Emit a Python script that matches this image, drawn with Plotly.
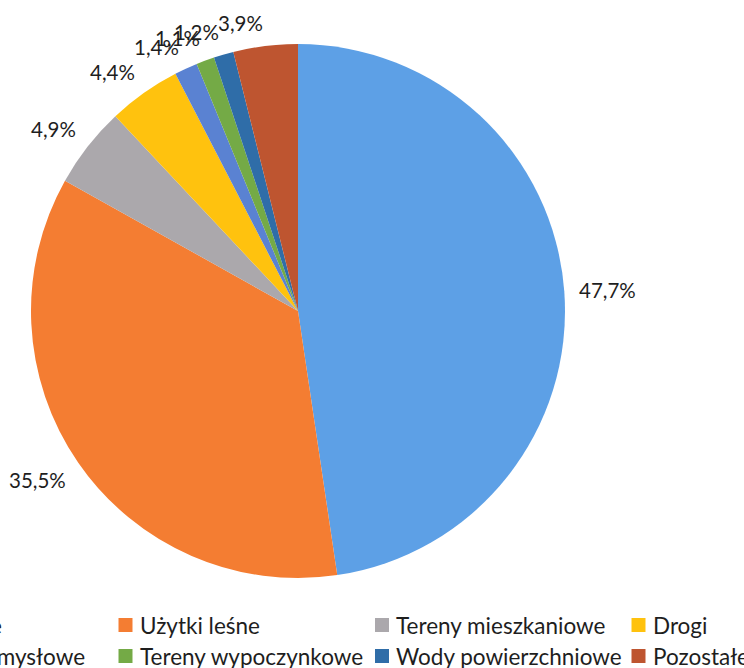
import numpy as np
import plotly.graph_objects as go

categories = ["Użytki rolne", "Użytki leśne", "Tereny mieszkaniowe", "Drogi",
              "Tereny przemysłowe", "Tereny wypoczynkowe", "Wody powierzchniowe", "Pozostałe"]
values = [47.7, 35.5, 4.9, 4.4, 1.4, 1.1, 1.2, 3.9]
colors = ["#5DA0E6", "#F47D32", "#ABA8AC", "#FFC20E", "#5A82D2", "#74AA46", "#2F6DA8", "#BE5530"]

W, H = 744, 668
CX, CY, R = 298, 311, 267
FONT = "Lato"
FS_LBL = 20.5
FS_LEG = 22.5
TXT = "#1E1E1E"

fig = go.Figure(go.Pie(
    labels=categories, values=values, sort=False, direction="clockwise", rotation=0,
    marker=dict(colors=colors, line=dict(width=0)),
    textinfo="none", hoverinfo="label+percent", showlegend=False,
    domain=dict(x=[(CX - R) / W, (CX + R) / W], y=[1 - (CY + R) / H, 1 - (CY - R) / H]),
))

# data labels outside the slices (anchored by their corner nearest the pie)
vals = np.array(values, dtype=float)
frac = vals / vals.sum()
mid = (np.cumsum(frac) - frac / 2) * 2 * np.pi
annotations = []
for v, a in zip(values, mid):
    txt = f"{v:.1f}".replace(".", ",") + "%"
    dx, dy = np.sin(a), -np.cos(a)
    w = len(txt) * 11.4
    h = 17
    px, py = CX + dx * (R + 15), CY + dy * (R + 15)
    vy = -1 if dy < -0.3 else (1 if dy > 0.3 else 0)
    bx = px + np.sign(dx) * w / 2
    by = py + vy * h / 2
    annotations.append(dict(x=bx / W, y=1 - by / H, xref="paper", yref="paper", text=txt,
                            showarrow=False, xanchor="center", yanchor="middle",
                            font=dict(family=FONT, size=FS_LBL, color=TXT)))

# legend (4 columns, 2 rows), partly cut off on the left like the reference
col_w = 256.5
sq0 = -138
rows_y = [625, 656]
shapes = []
for i, (name, c) in enumerate(zip(categories, colors)):
    col, row = i % 4, i // 4
    x0 = sq0 + col * col_w
    yc = rows_y[row]
    shapes.append(dict(type="rect", xref="paper", yref="paper",
                       x0=x0 / W, x1=(x0 + 14) / W, y0=1 - (yc + 7) / H, y1=1 - (yc - 7) / H,
                       fillcolor=c, line=dict(width=0)))
    annotations.append(dict(x=(x0 + 19) / W, y=1 - yc / H, xref="paper", yref="paper", text=name,
                            showarrow=False, xanchor="left", yanchor="middle",
                            font=dict(family=FONT, size=FS_LEG, color=TXT)))

fig.update_layout(width=W, height=H, margin=dict(l=0, r=0, t=0, b=0, autoexpand=False),
                  paper_bgcolor="white", plot_bgcolor="white",
                  annotations=annotations, shapes=shapes)
fig.write_html("out.html", config={"displayModeBar": False},
               post_script="document.body.style.margin='0';document.body.style.overflow='hidden';")
